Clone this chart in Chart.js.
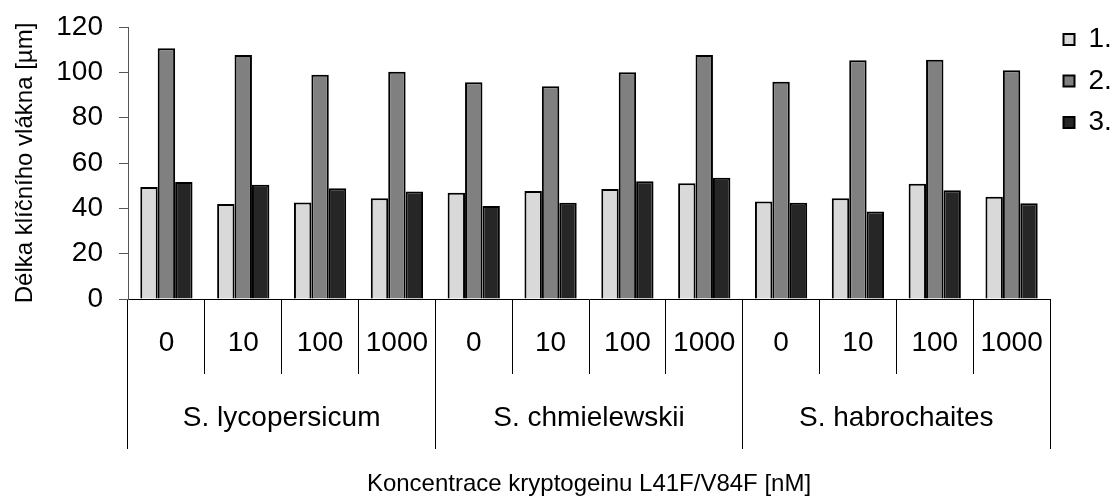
<!DOCTYPE html>
<html>
<head>
<meta charset="utf-8">
<script src="https://cdn.jsdelivr.net/npm/chart.js@4/dist/chart.umd.min.js"></script>
<style>
  html, body { margin: 0; padding: 0; background: #fff; }
  #c { display: block; }
</style>
</head>
<body>
<canvas id="c" width="1117" height="503"></canvas>
<script>
// Concentrations of cryptogein L41F/V84F within each tomato species
const concentrations = ['0', '10', '100', '1000', '0', '10', '100', '1000', '0', '10', '100', '1000'];
const species = ['S. lycopersicum', 'S. chmielewskii', 'S. habrochaites'];
const seriesNames = ['1.', '2.', '3.'];

// Hypocotyl length [µm] per measurement
const series1 = [49.4, 41.9, 42.6, 44.4, 46.9, 47.6, 48.5, 51.1, 43.0, 44.5, 50.8, 45.1];
const series2 = [110.6, 107.7, 98.9, 100.3, 95.6, 93.9, 100.0, 107.7, 95.8, 105.3, 105.6, 100.9];
const series3 = [51.6, 50.4, 48.9, 47.4, 41.0, 42.5, 52.0, 53.5, 42.5, 38.6, 48.0, 42.2];

const yTicks = [0, 20, 40, 60, 80, 100, 120];

const FONT = "'Liberation Sans', Arial, Helvetica, sans-serif";
Chart.defaults.font.family = FONT;
Chart.defaults.color = '#000';

const fills = ['#d9d9d9', '#808080', '#262626'];
const values = [series1, series2, series3];

new Chart(document.getElementById('c'), {
  type: 'bar',
  data: {
    labels: concentrations,
    datasets: seriesNames.map((name, i) => ({
      label: name,
      data: values[i],
      backgroundColor: fills[i],
      borderColor: '#000',
      borderWidth: 2,
      barPercentage: 1,
      categoryPercentage: 0.68,
      xAxisID: 'x',
      yAxisID: 'y'
    }))
  },
  options: {
    responsive: false,
    animation: false,
    devicePixelRatio: 1,
    layout: { padding: { top: 12, left: 7, right: 0, bottom: 0 } },
    plugins: {
      tooltip: { enabled: false },
      legend: {
        position: 'right',
        align: 'start',
        maxWidth: 67,
        labels: {
          boxWidth: 11,
          boxHeight: 11,
          padding: 13.5,
          font: { size: 28 },
          color: '#000'
        }
      }
    },
    scales: {
      x: {
        type: 'category',
        position: 'bottom',
        weight: 0,
        offset: true,
        grid: {
          display: true,
          offset: true,
          drawOnChartArea: false,
          drawTicks: true,
          tickLength: 75,
          color: '#000',
          lineWidth: 1
        },
        border: { display: true, color: '#000', width: 1 },
        ticks: {
          autoSkip: false,
          maxRotation: 0,
          minRotation: 0,
          padding: -48,
          font: { size: 28 },
          color: '#000'
        },
        afterFit(s) {
          s.height = 75;
          s.paddingLeft = 0;
          s.paddingRight = 67;
        }
      },
      x2: {
        type: 'category',
        position: 'bottom',
        weight: 1,
        labels: species,
        offset: true,
        grid: {
          display: true,
          offset: true,
          drawOnChartArea: false,
          drawTicks: true,
          tickLength: 75,
          color: '#000',
          lineWidth: 1
        },
        border: { display: false },
        ticks: {
          autoSkip: false,
          maxRotation: 0,
          minRotation: 0,
          padding: -48,
          font: { size: 28 },
          color: '#000'
        },
        title: {
          display: true,
          text: 'Koncentrace kryptogeinu L41F/V84F [nM]',
          font: { size: 24 },
          color: '#000',
          padding: { top: 4, bottom: 4 }
        },
        afterFit(s) {
          s.height = 129;
          s.paddingLeft = 0;
          s.paddingRight = 0;
        }
      },
      y: {
        type: 'linear',
        position: 'left',
        min: 0,
        max: 120,
        afterBuildTicks(s) {
          s.ticks = yTicks.map(v => ({ value: v }));
        },
        grid: {
          display: true,
          drawOnChartArea: false,
          drawTicks: true,
          tickLength: 9,
          color: '#555',
          lineWidth: 1
        },
        border: { display: true, color: '#555', width: 1 },
        ticks: {
          padding: 16,
          font: { size: 28 },
          color: '#000'
        },
        title: {
          display: true,
          text: 'Délka klíčního vlákna [µm]',
          font: { size: 24 },
          color: '#000',
          padding: { top: 4, bottom: 4 }
        },
        afterFit(s) {
          s.width = 121;
          s.paddingTop = 27;
          s.paddingBottom = 0;
        }
      }
    }
  }
});
</script>
</body>
</html>
